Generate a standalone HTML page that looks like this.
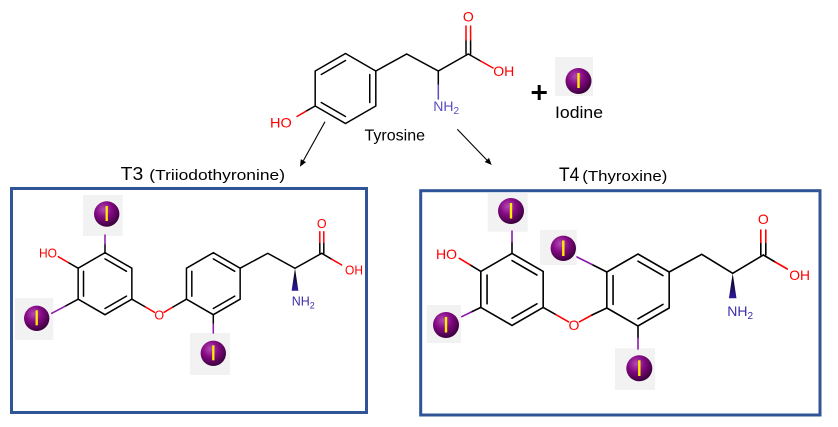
<!DOCTYPE html>
<html>
<head>
<meta charset="utf-8">
<style>
  html,body{margin:0;padding:0;background:#fff;}
  svg{display:block;}
  text{font-family:"Liberation Sans",Arial,sans-serif;}
</style>
</head>
<body>
<svg width="838" height="427" viewBox="0 0 838 427" xmlns="http://www.w3.org/2000/svg">
  <defs>
    <radialGradient id="sph" cx="38%" cy="32%" r="70%">
      <stop offset="0" stop-color="#b44ab4"/>
      <stop offset="0.45" stop-color="#850a85"/>
      <stop offset="1" stop-color="#3a003a"/>
    </radialGradient>
    <linearGradient id="wedge" x1="0" y1="0" x2="0" y2="1">
      <stop offset="0" stop-color="#000"/>
      <stop offset="1" stop-color="#2c1a9e"/>
    </linearGradient>
  </defs>
  <rect width="838" height="427" fill="#fff"/>

  <!-- ================= TYROSINE ================= -->
  <g stroke="#000" stroke-width="1.5" fill="none" stroke-linecap="round">
    <polygon points="345.5,53.5 375.81,71 375.81,106 345.5,123.5 315.19,106 315.19,71"/>
    <line x1="321.25" y1="74.5" x2="345.5" y2="60.5"/>
    <line x1="369.75" y1="74.5" x2="369.75" y2="102.5"/>
    <line x1="345.5" y1="116.5" x2="321.25" y2="102.5"/>
    <polyline points="375.81,71 406.7,54 438.3,71 468.3,54"/>
    <line x1="466" y1="54" x2="466" y2="40"/>
    <line x1="470.6" y1="54" x2="470.6" y2="40"/>
    <line x1="466" y1="40" x2="466" y2="26" stroke="#f00"/>
    <line x1="470.6" y1="40" x2="470.6" y2="26" stroke="#f00"/>
    <line x1="468.3" y1="54" x2="480.6" y2="61"/>
    <line x1="480.6" y1="61" x2="493" y2="68" stroke="#f00"/>
    <line x1="438.3" y1="71" x2="438.3" y2="85"/>
    <line x1="438.3" y1="85" x2="438.3" y2="99" stroke="#5a4fc0"/>
    <line x1="315.19" y1="106" x2="306" y2="111.2"/>
    <line x1="306" y1="111.2" x2="297" y2="116.5" stroke="#f00"/>
  </g>
  <text x="468.3" y="21.7" font-size="14" fill="#f00" text-anchor="middle">O</text>
  <text x="493.3" y="76" font-size="14" fill="#f00" textLength="21" lengthAdjust="spacingAndGlyphs">OH</text>
  <text x="433.3" y="111" font-size="14" fill="#5a4fc0">NH<tspan font-size="10" dy="3">2</tspan></text>
  <text x="270" y="127.5" font-size="14" fill="#f00" textLength="21.7" lengthAdjust="spacingAndGlyphs">HO</text>
  <text x="364.5" y="140.7" font-size="16" fill="#000" textLength="60.5" lengthAdjust="spacingAndGlyphs">Tyrosine</text>

  <!-- plus -->
  <rect x="531.7" y="91" width="15" height="3" fill="#000"/>
  <rect x="537.7" y="85" width="3" height="15" fill="#000"/>

  <!-- iodine icon -->
  <rect x="555" y="57" width="38" height="39" fill="#f2f2f2"/>
  <circle cx="578.5" cy="81" r="13" fill="url(#sph)"/>
  <line x1="578.5" y1="73" x2="578.5" y2="88" stroke="#ffef00" stroke-width="2.4"/>
  <text x="555" y="118" font-size="17" fill="#000" textLength="48" lengthAdjust="spacingAndGlyphs">Iodine</text>

  <!-- arrows -->
  <g stroke="#000" stroke-width="1.1">
    <line x1="325" y1="121.7" x2="303.4" y2="160.6"/>
    <line x1="457.3" y1="129.3" x2="486.8" y2="160"/>
  </g>
  <polygon points="300,166.7 306,162.1 300.8,159.1" fill="#000"/>
  <polygon points="491.7,165 484.7,162 489,157.9" fill="#000"/>

  <!-- labels -->
  <text x="120.7" y="180" font-size="18.5" fill="#000" textLength="22.6" lengthAdjust="spacingAndGlyphs">T3</text>
  <text x="149.3" y="180" font-size="15" fill="#000" textLength="135.7" lengthAdjust="spacingAndGlyphs">(Triiodothyronine)</text>
  <text x="559" y="181" font-size="19" fill="#000" textLength="20.3" lengthAdjust="spacingAndGlyphs">T4</text>
  <text x="582.3" y="181" font-size="15" fill="#000" textLength="85" lengthAdjust="spacingAndGlyphs">(Thyroxine)</text>

  <!-- iodine squares (drawn before boxes) -->
  <rect x="83" y="195" width="39.7" height="41" fill="#f2f2f2"/>
  <rect x="15" y="298" width="38.3" height="42" fill="#f2f2f2"/>
  <rect x="190" y="333" width="40" height="42" fill="#f2f2f2"/>
  <rect x="487.7" y="193" width="40" height="38.7" fill="#f2f2f2"/>
  <rect x="426.7" y="305" width="34.3" height="38" fill="#f2f2f2"/>
  <rect x="540" y="230" width="36.7" height="35" fill="#f2f2f2"/>
  <rect x="615" y="348.3" width="40" height="41.7" fill="#f2f2f2"/>

  <!-- boxes -->
  <rect x="11.5" y="188.5" width="355" height="224" fill="none" stroke="#2f5597" stroke-width="3"/>
  <rect x="420.7" y="190.7" width="399.3" height="224.3" fill="none" stroke="#2f5597" stroke-width="3"/>

  <!-- ================= T3 ================= -->
  <g stroke="#000" stroke-width="1.5" fill="none" stroke-linecap="round">
    <polygon points="105,252.7 131.85,268.2 131.85,299.2 105,314.7 78.15,299.2 78.15,268.2"/>
    <line x1="105" y1="258.9" x2="126.48" y2="271.3"/>
    <line x1="83.52" y1="271.3" x2="83.52" y2="296.1"/>
    <line x1="126.48" y1="296.1" x2="105" y2="308.5"/>
    <polygon points="213.3,252.7 240.15,268.2 240.15,299.2 213.3,314.7 186.45,299.2 186.45,268.2"/>
    <line x1="213.3" y1="258.9" x2="234.78" y2="271.3"/>
    <line x1="191.82" y1="271.3" x2="191.82" y2="296.1"/>
    <line x1="234.78" y1="296.1" x2="213.3" y2="308.5"/>
    <line x1="78.15" y1="268.2" x2="68.2" y2="262.5"/>
    <line x1="68.2" y1="262.5" x2="58.3" y2="256.7" stroke="#f00"/>
    <line x1="105" y1="252.7" x2="105" y2="244"/>
    <line x1="105" y1="244" x2="105" y2="235" stroke="#8a1aa8"/>
    <line x1="78.15" y1="299.2" x2="65" y2="306.3"/>
    <line x1="65" y1="306.3" x2="51.7" y2="313.3" stroke="#8a1aa8"/>
    <line x1="213.3" y1="314.7" x2="213.3" y2="324"/>
    <line x1="213.3" y1="324" x2="213.3" y2="333" stroke="#8a1aa8"/>
    <line x1="131.85" y1="299.2" x2="145.5" y2="307"/>
    <line x1="145.5" y1="307" x2="154.5" y2="312.3" stroke="#f00"/>
    <line x1="164" y1="312.3" x2="173" y2="307" stroke="#f00"/>
    <line x1="173" y1="307" x2="186.45" y2="299.2"/>
    <polyline points="240.15,268.2 267.8,253.3 295,268.3 321.7,253.3"/>
    <line x1="319.8" y1="253.3" x2="319.8" y2="242.5"/>
    <line x1="323.8" y1="253.3" x2="323.8" y2="242.5"/>
    <line x1="319.8" y1="242.5" x2="319.8" y2="231.7" stroke="#f00"/>
    <line x1="323.8" y1="242.5" x2="323.8" y2="231.7" stroke="#f00"/>
    <line x1="321.7" y1="253.3" x2="331.7" y2="259.2"/>
    <line x1="331.7" y1="259.2" x2="341.7" y2="265" stroke="#f00"/>
  </g>
  <polygon points="295,268.3 291.6,290.7 298.4,290.7" fill="url(#wedge)"/>
  <text x="39" y="257.3" font-size="12.5" fill="#f00" textLength="18" lengthAdjust="spacingAndGlyphs">HO</text>
  <text x="159.3" y="319.5" font-size="12.5" fill="#f00" text-anchor="middle">O</text>
  <text x="321.7" y="227.8" font-size="12.5" fill="#f00" text-anchor="middle">O</text>
  <text x="345" y="274.5" font-size="12.5" fill="#f00" textLength="18" lengthAdjust="spacingAndGlyphs">OH</text>
  <text x="291.7" y="305.5" font-size="12.5" fill="#3a2ca8">NH<tspan font-size="9" dy="3">2</tspan></text>
  <circle cx="106.7" cy="214" r="12.7" fill="url(#sph)"/>
  <line x1="106.7" y1="206" x2="106.7" y2="221" stroke="#ffef00" stroke-width="2.3"/>
  <circle cx="36.7" cy="318.3" r="12.7" fill="url(#sph)"/>
  <line x1="36.7" y1="310.3" x2="36.7" y2="325.3" stroke="#ffef00" stroke-width="2.3"/>
  <circle cx="213.3" cy="353.3" r="12.7" fill="url(#sph)"/>
  <line x1="213.3" y1="345.3" x2="213.3" y2="360.3" stroke="#ffef00" stroke-width="2.3"/>

  <!-- ================= T4 ================= -->
  <g stroke="#000" stroke-width="1.6" fill="none" stroke-linecap="round">
    <polygon points="512,253.4 543.18,271.4 543.18,307.4 512,325.4 480.82,307.4 480.82,271.4"/>
    <line x1="512" y1="260.6" x2="536.94" y2="275"/>
    <line x1="487.06" y1="275" x2="487.06" y2="303.8"/>
    <line x1="536.94" y1="303.8" x2="512" y2="318.2"/>
    <polygon points="638,254 669.18,272 669.18,308 638,326 606.82,308 606.82,272"/>
    <line x1="638" y1="261.2" x2="662.94" y2="275.6"/>
    <line x1="613.06" y1="275.6" x2="613.06" y2="304.4"/>
    <line x1="662.94" y1="304.4" x2="638" y2="318.8"/>
    <line x1="480.82" y1="271.4" x2="470" y2="264.8"/>
    <line x1="470" y1="264.8" x2="459.3" y2="258.3" stroke="#f00"/>
    <line x1="512" y1="253.4" x2="512" y2="242"/>
    <line x1="512" y1="242" x2="512" y2="231" stroke="#8a1aa8"/>
    <line x1="480.82" y1="307.4" x2="471.3" y2="312"/>
    <line x1="471.3" y1="312" x2="461.7" y2="316.7" stroke="#8a1aa8"/>
    <line x1="606.82" y1="272" x2="592" y2="264.5"/>
    <line x1="592" y1="264.5" x2="577" y2="257" stroke="#8a1aa8"/>
    <line x1="638" y1="326" x2="638" y2="338"/>
    <line x1="638" y1="338" x2="638" y2="349" stroke="#8a1aa8"/>
    <line x1="543.18" y1="307.4" x2="556" y2="314.7"/>
    <line x1="556" y1="314.7" x2="568.5" y2="321.8" stroke="#f00"/>
    <line x1="579.5" y1="321.8" x2="592" y2="315" stroke="#f00"/>
    <line x1="592" y1="315" x2="606.82" y2="308"/>
    <polyline points="669.18,272 701.7,254.3 732.7,273.3 763.3,255"/>
    <line x1="760.8" y1="255" x2="760.8" y2="242.5"/>
    <line x1="765.8" y1="255" x2="765.8" y2="242.5"/>
    <line x1="760.8" y1="242.5" x2="760.8" y2="230" stroke="#f00"/>
    <line x1="765.8" y1="242.5" x2="765.8" y2="230" stroke="#f00"/>
    <line x1="763.3" y1="255" x2="775.2" y2="262"/>
    <line x1="775.2" y1="262" x2="787.3" y2="269" stroke="#f00"/>
  </g>
  <polygon points="732.7,273.3 728.9,298.3 736.5,298.3" fill="url(#wedge)"/>
  <text x="436" y="259" font-size="14" fill="#f00" textLength="21" lengthAdjust="spacingAndGlyphs">HO</text>
  <text x="574" y="330" font-size="14" fill="#f00" text-anchor="middle">O</text>
  <text x="763.3" y="224" font-size="14" fill="#f00" text-anchor="middle">O</text>
  <text x="789.3" y="280" font-size="14" fill="#f00" textLength="20.7" lengthAdjust="spacingAndGlyphs">OH</text>
  <text x="727.3" y="316" font-size="14" fill="#3a2ca8">NH<tspan font-size="10" dy="3">2</tspan></text>
  <circle cx="511" cy="211" r="13" fill="url(#sph)"/>
  <line x1="511" y1="203" x2="511" y2="218.5" stroke="#ffef00" stroke-width="2.4"/>
  <circle cx="446" cy="325" r="13" fill="url(#sph)"/>
  <line x1="446" y1="317" x2="446" y2="332.5" stroke="#ffef00" stroke-width="2.4"/>
  <circle cx="563.3" cy="248.3" r="12.7" fill="url(#sph)"/>
  <line x1="563.3" y1="240.5" x2="563.3" y2="256" stroke="#ffef00" stroke-width="2.4"/>
  <circle cx="639.3" cy="368.3" r="13" fill="url(#sph)"/>
  <line x1="639.3" y1="360.3" x2="639.3" y2="376" stroke="#ffef00" stroke-width="2.4"/>
</svg>
</body>
</html>
